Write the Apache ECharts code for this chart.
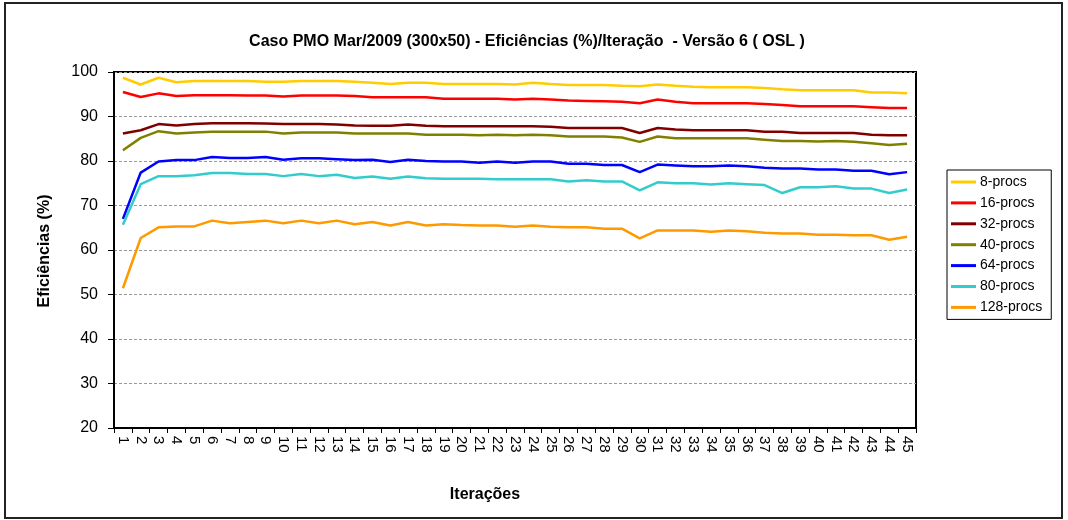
<!DOCTYPE html>
<html>
<head>
<meta charset="utf-8">
<style>
  html, body { margin: 0; padding: 0; background: #ffffff; }
  #chart { width: 1068px; height: 520px; }
</style>
<script src="https://cdn.jsdelivr.net/npm/echarts@6/dist/echarts.min.js"></script>
</head>
<body>
<div id="chart"></div>
<script>
// Iteration numbers 1..45
const iteracoes = ['1','2','3','4','5','6','7','8','9','10','11','12','13','14','15','16','17','18','19','20','21','22','23','24','25','26','27','28','29','30','31','32','33','34','35','36','37','38','39','40','41','42','43','44','45'];

// Efficiency (%) per iteration for each processor count
const procs8 = [98.7, 97.2, 98.7, 97.7, 98.0, 98.0, 98.0, 98.0, 97.8, 97.8, 98.0, 98.0, 98.0, 97.8, 97.6, 97.3, 97.6, 97.6, 97.3, 97.3, 97.3, 97.3, 97.2, 97.6, 97.3, 97.1, 97.1, 97.1, 96.9, 96.8, 97.2, 96.9, 96.7, 96.6, 96.6, 96.6, 96.4, 96.1, 95.9, 95.9, 95.9, 95.9, 95.4, 95.4, 95.2];
const procs16 = [95.5, 94.4, 95.2, 94.6, 94.8, 94.8, 94.8, 94.7, 94.7, 94.5, 94.7, 94.7, 94.7, 94.6, 94.3, 94.3, 94.3, 94.3, 94.0, 94.0, 94.0, 94.0, 93.8, 94.0, 93.8, 93.6, 93.5, 93.4, 93.3, 93.0, 93.8, 93.3, 93.0, 93.0, 93.0, 93.0, 92.8, 92.6, 92.3, 92.3, 92.3, 92.3, 92.1, 91.9, 91.9];
const procs32 = [86.2, 86.9, 88.3, 88.0, 88.3, 88.5, 88.5, 88.5, 88.4, 88.3, 88.3, 88.3, 88.2, 88.0, 87.9, 87.9, 88.2, 87.9, 87.8, 87.8, 87.8, 87.8, 87.8, 87.8, 87.7, 87.4, 87.4, 87.4, 87.4, 86.3, 87.4, 87.1, 86.9, 86.9, 86.9, 86.9, 86.6, 86.6, 86.3, 86.3, 86.3, 86.3, 85.9, 85.8, 85.8];
const procs40 = [82.4, 85.2, 86.7, 86.2, 86.4, 86.6, 86.6, 86.6, 86.6, 86.2, 86.4, 86.4, 86.4, 86.2, 86.2, 86.2, 86.2, 85.9, 85.9, 85.9, 85.8, 85.9, 85.8, 85.9, 85.8, 85.5, 85.5, 85.5, 85.3, 84.3, 85.5, 85.1, 85.1, 85.1, 85.1, 85.1, 84.8, 84.5, 84.5, 84.4, 84.5, 84.3, 84.0, 83.6, 83.9];
const procs64 = [67.0, 77.4, 79.9, 80.2, 80.2, 80.9, 80.7, 80.7, 80.9, 80.3, 80.6, 80.6, 80.4, 80.2, 80.3, 79.8, 80.3, 80.0, 79.9, 79.9, 79.6, 79.9, 79.6, 79.9, 79.9, 79.4, 79.4, 79.1, 79.1, 77.5, 79.2, 79.0, 78.8, 78.8, 79.0, 78.8, 78.5, 78.3, 78.3, 78.1, 78.1, 77.8, 77.8, 77.0, 77.5];
const procs80 = [65.7, 74.8, 76.6, 76.6, 76.8, 77.3, 77.3, 77.1, 77.1, 76.6, 77.1, 76.6, 76.9, 76.2, 76.5, 76.0, 76.5, 76.1, 76.0, 76.0, 76.0, 75.9, 75.9, 75.9, 75.9, 75.4, 75.7, 75.4, 75.4, 73.4, 75.2, 75.0, 75.0, 74.7, 75.0, 74.8, 74.6, 72.8, 74.1, 74.1, 74.3, 73.8, 73.8, 72.8, 73.6];
const procs128 = [51.4, 62.7, 65.1, 65.3, 65.3, 66.6, 66.0, 66.3, 66.6, 66.0, 66.6, 66.0, 66.6, 65.8, 66.3, 65.5, 66.3, 65.5, 65.8, 65.6, 65.5, 65.5, 65.2, 65.5, 65.2, 65.1, 65.1, 64.8, 64.8, 62.6, 64.4, 64.4, 64.4, 64.1, 64.4, 64.2, 63.9, 63.7, 63.7, 63.4, 63.4, 63.3, 63.3, 62.3, 63.0];

const seriesNames = ['8-procs', '16-procs', '32-procs', '40-procs', '64-procs', '80-procs', '128-procs'];
const seriesData = [procs8, procs16, procs32, procs40, procs64, procs80, procs128];
const seriesColors = ['#FFCC00', '#FF0000', '#800000', '#808000', '#0000FF', '#33CCCC', '#FF9900'];

const FONT = '"Liberation Sans", Arial, sans-serif';

const chart = echarts.init(document.getElementById('chart'), null, { renderer: 'canvas' });

chart.setOption({
  backgroundColor: '#ffffff',
  animation: false,
  textStyle: { fontFamily: FONT },
  title: {
    text: 'Caso PMO Mar/2009 (300x50) - Eficiências (%)/Iteração  - Versão 6 ( OSL )',
    left: 522,
    textAlign: 'center',
    top: 29,
    textStyle: { fontFamily: FONT, fontSize: 16, fontWeight: 'bold', color: '#000' }
  },
  grid: {
    left: 114, right: 152, top: 72, bottom: 92,
    show: true, borderColor: '#000', borderWidth: 2, backgroundColor: 'transparent'
  },
  legend: {
    orient: 'vertical',
    left: 947, top: 170,
    width: 105,
    padding: [5, 9, 5, 4],
    borderColor: '#000', borderWidth: 1,
    itemWidth: 25, itemHeight: 3,
    itemGap: 6.9,
    icon: 'rect',
    data: seriesNames,
    textStyle: { fontFamily: FONT, fontSize: 14, color: '#000', lineHeight: 14, padding: [0, 0, 0, -1] }
  },
  xAxis: {
    type: 'category',
    data: iteracoes,
    boundaryGap: true,
    axisLine: { lineStyle: { color: '#000', width: 2 } },
    axisTick: { show: true, inside: false, length: 5, lineStyle: { color: '#000', width: 1 } },
    axisLabel: { rotate: -90, interval: 0, fontSize: 15, color: '#000', fontFamily: FONT, margin: 8 },
    splitLine: { show: false }
  },
  yAxis: {
    type: 'value',
    min: 20, max: 100, interval: 10,
    axisLine: { show: true, lineStyle: { color: '#000', width: 2 } },
    axisTick: { show: true, length: 6, lineStyle: { color: '#000', width: 1 } },
    axisLabel: { fontSize: 16, color: '#000', fontFamily: FONT, margin: 16 },
    splitLine: { show: true, lineStyle: { color: '#999', type: [3, 2], width: 1 } }
  },
  series: seriesNames.map((name, i) => ({
    name: name,
    type: 'line',
    data: seriesData[i],
    showSymbol: false,
    symbol: 'none',
    color: seriesColors[i],
    lineStyle: { width: 2.5, color: seriesColors[i] }
  })),
  graphic: [
    {
      type: 'rect',
      shape: { x: 5, y: 3, width: 1057, height: 515 },
      style: { fill: 'none', stroke: '#222', lineWidth: 2 },
      silent: true
    },
    {
      type: 'text',
      x: 45, y: 251,
      rotation: Math.PI / 2,
      style: {
        text: 'Eficiências (%)',
        font: 'bold 16px ' + FONT,
        fill: '#000',
        textAlign: 'center',
        textVerticalAlign: 'middle'
      }
    },
    {
      type: 'text',
      x: 485, y: 495,
      style: {
        text: 'Iterações',
        font: 'bold 16px ' + FONT,
        fill: '#000',
        textAlign: 'center',
        textVerticalAlign: 'middle'
      }
    }
  ]
});
</script>
</body>
</html>
